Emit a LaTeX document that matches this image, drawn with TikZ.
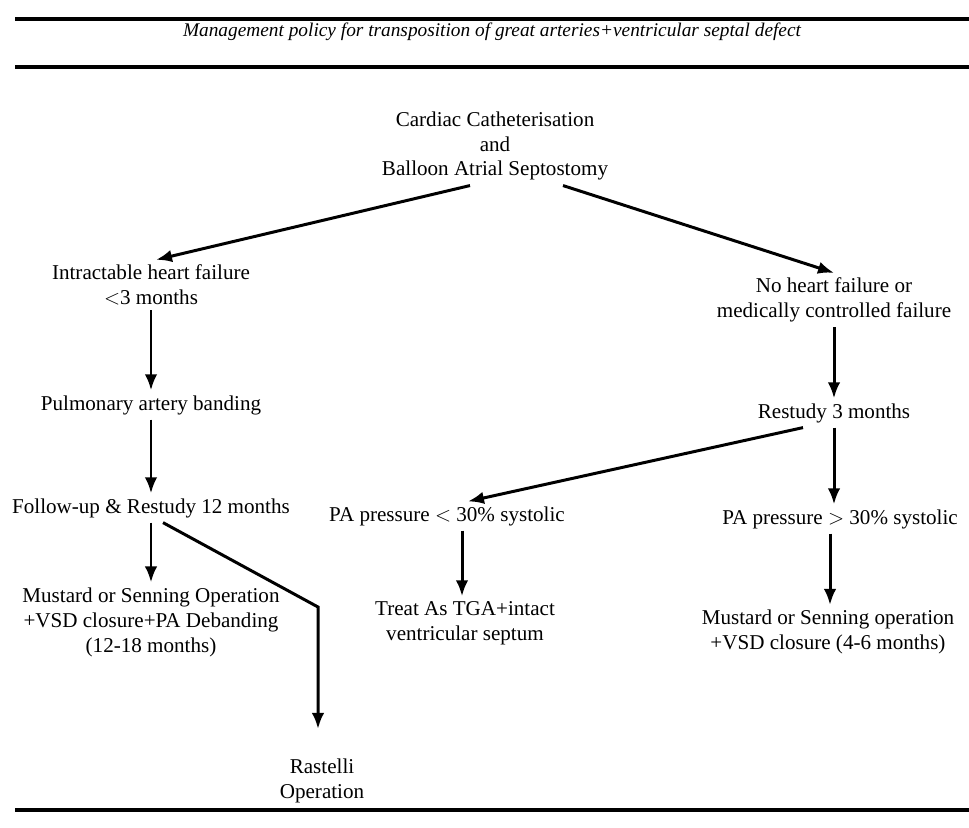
\documentclass[tikz,border=0pt]{standalone}
\usepackage{fontspec}
\setmainfont{Liberation Serif}
\usetikzlibrary{arrows.meta,positioning}

\begin{document}
\begin{tikzpicture}[>={Latex[length=3.2mm,width=2.5mm]}, line width=1.7pt,
    main node/.style={align=center, font=\fontsize{12}{14.2}\selectfont, inner sep=2pt},
    rule/.style={line width=2.2pt}]

  \useasboundingbox (0,0) rectangle (19.38,-16.54);

  %% heading between the two rules
  \draw[rule] (0.3,-0.38) coordinate (TopL) -- (19.38,-0.38) coordinate (TopR);
  \node (Title) at (9.84,-0.64) {\fontsize{11}{13}\selectfont\itshape Management policy for transposition of great arteries+ventricular septal defect};
  \draw[rule] (0.3,-1.34) coordinate (MidL) -- (19.38,-1.34) coordinate (MidR);

  \node[main node] (Catheter) at (9.9,-2.92) {Cardiac Catheterisation\\and\\Balloon Atrial Septostomy};

  \node[main node] (HeartFail) at (3.02,-5.7) {Intractable heart failure\\$<$3 months};
  \node[main node] (Banding) [below of=HeartFail, node distance=2.4cm] {Pulmonary artery banding};
  \node[main node] (FollowUp) [below of=Banding, node distance=2.06cm] {Follow-up \& Restudy 12 months};
  \node[main node] (MustardL) [below of=FollowUp, node distance=2.28cm] {Mustard or Senning Operation\\+VSD closure+PA Debanding\\(12-18 months)};
  \node[main node] (Rastelli) at (6.44,-15.62) {Rastelli\\Operation};

  \node[main node] (NoFail) at (16.68,-6.0) {No heart failure or\\medically controlled failure};
  \node[main node] (Restudy) [below of=NoFail, node distance=2.26cm] {Restudy 3 months};
  \node[main node] (PALow) at (8.94,-10.32) {PA pressure $<$ 30\% systolic};
  \node[main node] (PAHigh) at (16.8,-10.38) {PA pressure $>$ 30\% systolic};
  \node[main node] (TreatTGA) at (9.3,-12.46) {Treat As TGA+intact\\ventricular septum};
  \node[main node] (MustardR) at (16.56,-12.64) {Mustard or Senning operation\\+VSD closure (4-6 months)};

  \coordinate (Bend) at (6.36,-12.14);

  \draw[->] ([xshift=-0.5cm]Catheter.south) -- ([xshift=0.1cm]HeartFail.north);
  \draw[->] ([xshift=1.36cm]Catheter.south) -- (NoFail.north);

  \draw[->] (HeartFail.south) -- (HeartFail.south |- Banding.north);
  \draw[->] (Banding.south) -- (Banding.north |- FollowUp.north);
  \draw[->] (FollowUp.south) -- (MustardL.north);
  \draw[->] ([xshift=0.24cm]FollowUp.south) -- (Bend) -- ([yshift=0.5cm]Bend |- Rastelli.north);

  \draw[->] (NoFail.south) -- (NoFail.south |- Restudy.north);
  \draw[->] ([xshift=-0.62cm]Restudy.south) -- ([xshift=0.42cm]PALow.north);
  \draw[->] (Restudy.south) -- (Restudy.south |- PAHigh.north);
  \draw[->] ([xshift=0.3cm]PALow.south) -- ([xshift=0.3cm]PALow.south |- TreatTGA.north);
  \draw[->] ([xshift=-0.2cm]PAHigh.south) -- ([xshift=-0.2cm]PAHigh.south |- MustardR.north);

  \draw[rule] (0.3,-16.2) coordinate (BotL) -- (19.38,-16.2) coordinate (BotR);

\end{tikzpicture}
\end{document}
